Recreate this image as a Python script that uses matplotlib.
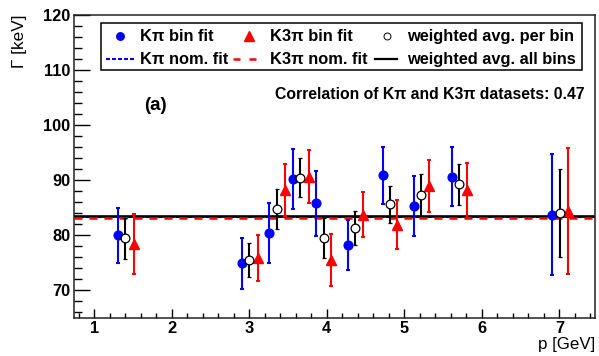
import matplotlib
matplotlib.use("Agg")
import matplotlib.pyplot as plt
from matplotlib.ticker import MultipleLocator
from matplotlib.lines import Line2D
from matplotlib.patches import Rectangle

plt.rcParams['font.family'] = ['Liberation Sans', 'DejaVu Sans']
plt.rcParams['font.weight'] = 'bold'

# Kpi bin fit (blue)
kpi_p = [1.31, 2.91, 3.26, 3.56, 3.86, 4.27, 4.72, 5.12, 5.62, 6.91]
kpi_g = [79.95, 74.85, 80.35, 90.2, 85.75, 78.2, 90.85, 85.35, 90.65, 83.75]
kpi_e = [5.05, 4.55, 5.45, 5.5, 5.85, 4.6, 5.15, 5.45, 5.35, 11.05]

# weighted average per bin (open circles)
avg_p = [1.40, 3.00, 3.36, 3.66, 3.96, 4.37, 4.81, 5.215, 5.71, 7.01]
avg_g = [79.4, 75.5, 84.75, 90.45, 79.45, 81.35, 85.6, 87.3, 89.25, 84.1]
avg_e = [3.7, 3.05, 3.65, 3.55, 3.65, 3.05, 3.4, 3.8, 3.75, 8.0]

# K3pi bin fit (red)
k3pi_p = [1.51, 3.11, 3.46, 3.77, 4.06, 4.47, 4.91, 5.32, 5.81, 7.11]
k3pi_g = [78.4, 75.85, 88.15, 90.65, 75.45, 83.75, 81.9, 88.9, 88.15, 84.4]
k3pi_e = [5.4, 4.15, 4.75, 4.75, 4.75, 4.05, 4.4, 4.7, 4.95, 11.5]

kpi_nom = 83.35
k3pi_nom = 83.2
avg_all = 83.45

labels = ["K\u03c0 bin fit", "K\u03c0 nom. fit", "K3\u03c0 bin fit", "K3\u03c0 nom. fit",
          "weighted avg. per bin", "weighted avg. all bins"]
corr_text = "Correlation of K\u03c0 and K3\u03c0 datasets: 0.47"

W, H = 599, 356
fig = plt.figure(figsize=(W / 100, H / 100), dpi=100)
x0, x1, y0, y1 = 74, 595, 15, 317.7
ax = fig.add_axes([x0 / W, 1 - y1 / H, (x1 - x0) / W, (y1 - y0) / H])


def fx(x):
    return x / W


def fy(y):
    return 1 - y / H


def pt(px):
    return px * 0.72


ax.set_xlim(0.74, 7.46)
ax.set_ylim(65, 120)

blue_ls = (0, (pt(4) / 1.5, pt(2) / 1.5))
red_ls = (0, (pt(8) / 1.8, pt(7) / 1.8))
ax.axhline(kpi_nom, color='blue', lw=1.5, ls=blue_ls, zorder=1)
ax.axhline(avg_all, color='black', lw=1.9, zorder=2)
ax.axhline(k3pi_nom, color='red', lw=1.8, ls=red_ls, zorder=3)

ekw = dict(elinewidth=1.5, capsize=1.6, capthick=1.5, ls='none')
ax.errorbar(kpi_p, kpi_g, yerr=kpi_e, fmt='o', color='blue', ms=6.3, zorder=4, **ekw)
ax.errorbar(k3pi_p, k3pi_g, yerr=k3pi_e, fmt='^', color='red', ms=7, zorder=4, **ekw)
ax.errorbar(avg_p, avg_g, yerr=avg_e, fmt='o', color='black', mfc='white', mec='black',
            mew=0.9, ms=6.3, zorder=5, **ekw)

# ticks (ROOT-like)
ax.xaxis.set_major_locator(MultipleLocator(1))
ax.xaxis.set_minor_locator(MultipleLocator(0.2))
ax.yaxis.set_major_locator(MultipleLocator(10))
ax.yaxis.set_minor_locator(MultipleLocator(2))
ax.tick_params(axis='x', which='major', direction='in', length=6.7, width=1.0, labelsize=11.8, pad=2.3)
ax.tick_params(axis='x', which='minor', direction='in', length=3.6, width=1.0)
ax.tick_params(axis='y', which='major', direction='in', length=11.5, width=1.0, labelsize=11.8, pad=2.5)
ax.tick_params(axis='y', which='minor', direction='in', length=5.8, width=1.0)
ax.tick_params(top=False, right=False, which='both')
for s in ax.spines.values():
    s.set_linewidth(1.1)
    s.set_color('#222222')

ax.set_xlabel('p [GeV]', loc='right', fontsize=12.2, va='baseline')
ax.xaxis.set_label_coords(1.0, (y1 - 348.5) / (y1 - y0))
ax.set_ylabel('\u0393 [keV]', loc='top', fontsize=12.3, va='center')
ax.yaxis.set_label_coords(-0.104, 1.0)

fig.text(fx(155), fy(110), '(a)', fontsize=13.5, ha='center', va='baseline')
fig.text(fx(585), fy(99), corr_text, fontsize=11.3, ha='right', va='baseline')

# legend box (ROOT TLegend style)
lx0, lx1, ly0, ly1 = 100.7, 581.7, 23, 69.7
fig.add_artist(Rectangle((fx(lx0), fy(ly1)), fx(lx1) - fx(lx0), fy(ly0) - fy(ly1),
                         transform=fig.transFigure, facecolor='white', edgecolor='black',
                         lw=1.1, zorder=10))
r1, r2 = 35.7, 59.0
b1, b2 = 40.6, 64.3
fs = 11.8

fig.add_artist(Line2D([fx(120)], [fy(r1)], transform=fig.transFigure, ls='none',
                      marker='o', color='blue', ms=5.4, zorder=11))
fig.add_artist(Line2D([fx(106), fx(134.3)], [fy(r2), fy(r2)], transform=fig.transFigure,
                      color='blue', lw=1.5, ls=blue_ls, zorder=11))
fig.add_artist(Line2D([fx(249)], [fy(r1 + 0.5)], transform=fig.transFigure, ls='none',
                      marker='^', color='red', ms=7, zorder=11))
fig.add_artist(Line2D([fx(233), fx(256)], [fy(r2), fy(r2)], transform=fig.transFigure,
                      color='red', lw=1.8, ls=(0, (pt(7) / 1.8, pt(9) / 1.8)), zorder=11))
fig.add_artist(Line2D([fx(386.7)], [fy(r1)], transform=fig.transFigure, ls='none',
                      marker='o', color='black', mfc='white', mew=0.7, ms=5, zorder=11))
fig.add_artist(Line2D([fx(375), fx(396.7)], [fy(r2), fy(r2)], transform=fig.transFigure,
                      color='black', lw=1.6, zorder=11))

text_pos = [(140, b1), (140, b2), (270, b1), (270, b2), (406.7, b1), (406.7, b2)]
for (tx, ty), lab in zip(text_pos, labels):
    fig.text(fx(tx), fy(ty), lab, fontsize=fs, ha='left', va='baseline', zorder=12)

fig.savefig('out.png', dpi=100)
